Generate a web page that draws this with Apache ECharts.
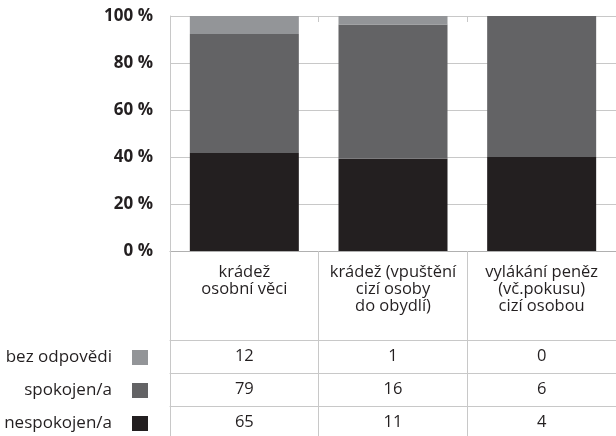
<!DOCTYPE html>
<html>
<head>
<meta charset="utf-8">
<script src="https://cdn.jsdelivr.net/npm/echarts@6/dist/echarts.min.js"></script>
<style>
  html, body { margin: 0; padding: 0; background: #fff; }
  #chart { width: 616px; height: 436px; }
</style>
</head>
<body>
<div id="chart"></div>
<script>
const categories = ["krádež\nosobní věci", "krádež (vpuštění\ncizí osoby\ndo obydlí)", "vylákání peněz\n(vč.pokusu)\ncizí osobou"];
const nespokojen = [65, 11, 4];
const spokojen = [79, 16, 6];
const bezOdpovedi = [12, 1, 0];
const yTicks = [0, 20, 40, 60, 80, 100];

const totals = categories.map((c, i) => nespokojen[i] + spokojen[i] + bezOdpovedi[i]);
const pct = arr => arr.map((v, i) => v / totals[i] * 100);

const textColor = "#231f20";
const lineColor = "#c8c8c8";
const font = "Open Sans";
const fs = 16.5;

// one axis per table row, the axis line is the row's top border
function tableRow(values, offset) {
  return {
    type: "category",
    data: categories,
    position: "bottom",
    offset: offset,
    axisLine: { show: true, lineStyle: { color: lineColor, width: 1 } },
    axisTick: { show: false },
    axisLabel: {
      margin: 8,
      fontFamily: font,
      fontSize: fs,
      color: textColor,
      formatter: (v, i) => String(values[i])
    }
  };
}

const chart = echarts.init(document.getElementById("chart"));
chart.setOption({
  animation: false,
  grid: { left: 170, right: 0, top: 16, bottom: 185 },
  legend: {
    orient: "vertical",
    left: 0,
    top: 349,
    height: 150,
    padding: 0,
    align: "right",
    icon: "rect",
    itemWidth: 16,
    itemHeight: 15,
    itemGap: 16,
    data: ["bez odpovědi", "spokojen/a", "nespokojen/a"],
    textStyle: {
      fontFamily: font,
      fontSize: 17,
      lineHeight: 15,
      color: textColor,
      width: 112,
      align: "right",
      padding: [0, 15, 0, 0]
    }
  },
  xAxis: [
    {
      type: "category",
      data: categories,
      axisLine: { show: true, lineStyle: { color: "#b0b0b0", width: 1 } },
      axisTick: { show: true, length: 185, lineStyle: { color: lineColor } },
      axisLabel: {
        interval: 0,
        margin: 13,
        fontFamily: font,
        fontSize: fs,
        lineHeight: 17,
        color: textColor
      }
    },
    {
      type: "category",
      data: categories,
      axisLine: { show: false },
      axisTick: { show: true, inside: true, length: 6, lineStyle: { color: lineColor } },
      axisLabel: { show: false }
    },
    tableRow(bezOdpovedi, 89),
    tableRow(spokojen, 122),
    tableRow(nespokojen, 155)
  ],
  yAxis: {
    type: "value",
    min: yTicks[0],
    max: yTicks[yTicks.length - 1],
    interval: 20,
    axisLine: { show: true, lineStyle: { color: lineColor } },
    axisTick: { show: false },
    splitLine: { lineStyle: { color: lineColor, width: 1 } },
    axisLabel: {
      margin: 17,
      fontFamily: font,
      fontSize: 17,
      fontWeight: "bold",
      color: textColor,
      formatter: "{value} %"
    }
  },
  series: [
    { name: "nespokojen/a", type: "bar", stack: "s", barWidth: 109, data: pct(nespokojen), itemStyle: { color: "#231f20" } },
    { name: "spokojen/a", type: "bar", stack: "s", barWidth: 109, data: pct(spokojen), itemStyle: { color: "#636365" } },
    { name: "bez odpovědi", type: "bar", stack: "s", barWidth: 109, data: pct(bezOdpovedi), itemStyle: { color: "#939598" } }
  ]
});
</script>
</body>
</html>
